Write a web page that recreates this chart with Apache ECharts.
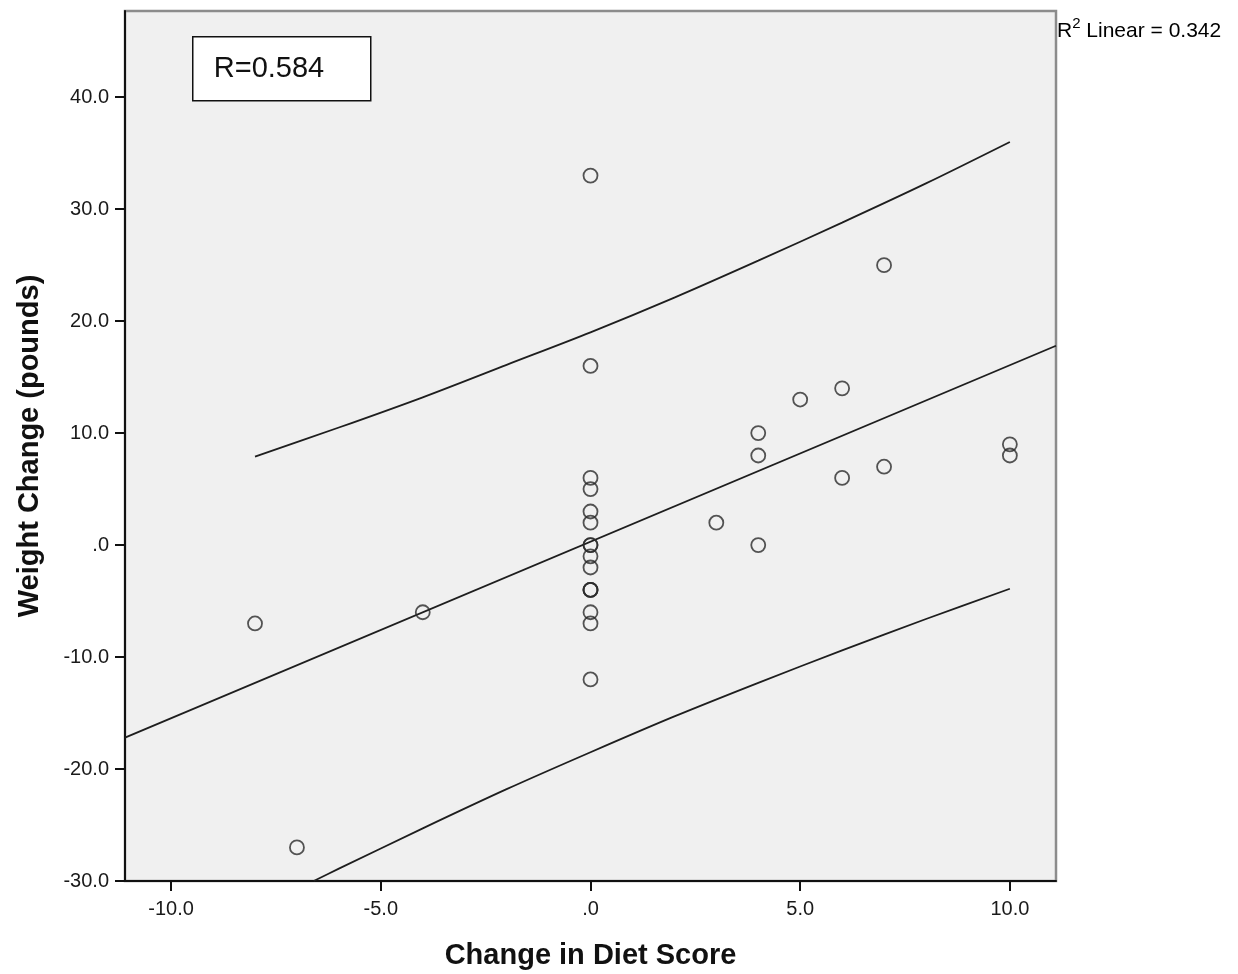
<!DOCTYPE html>
<html>
<head>
<meta charset="utf-8">
<script src="https://cdn.jsdelivr.net/npm/echarts@6/dist/echarts.min.js"></script>
<style>
  html, body { margin: 0; padding: 0; background: #ffffff; }
  #chart { width: 1238px; height: 974px; }
</style>
</head>
<body>
<div id="chart"></div>
<script>
// Observations: change in diet score vs. weight change (pounds)
const dietChange   = [0, 7, 0, 6, 5, 4, 10, 4, 10, 7, 6, 0, 0, 0, 3, 0, 0, 0, 4, 0, 0, 0, 0, 0, 0, -4, 0, -8, 0, -7];
const weightChange = [33, 25, 16, 14, 13, 10, 9, 8, 8, 7, 6, 6, 5, 3, 2, 2, 0, 0, 0, -1, -2, -4, -4, -4, -6, -6, -7, -7, -12, -27];

// Linear fit across the axis range
const fitX = [-11.1, 11.1];
const fitY = [-17.2, 17.8];

// Individual prediction interval bounds
const upperX = [-8, -6, -4, -2, 0, 2, 4, 6, 8, 10];
const upperY = [7.9, 10.5, 13.2, 16.1, 19.0, 22.1, 25.4, 28.8, 32.3, 36.0];
const lowerX = [-6.6, -6, -4, -2, 0, 2, 4, 6, 8, 10];
const lowerY = [-30, -28.9, -25.3, -21.8, -18.5, -15.3, -12.3, -9.4, -6.6, -3.9];

// Axis ticks
const xTicks = [-10, -5, 0, 5, 10];
const yTicks = [-30, -20, -10, 0, 10, 20, 30, 40];

const rText = 'R=0.584';
const r2Value = '0.342';

const zip = (xs, ys) => xs.map((x, i) => [x, ys[i]]);
const fmt = v => (v === 0 ? '.0' : v.toFixed(1));

const FONT = '"Liberation Sans", Arial, sans-serif';
const chart = echarts.init(document.getElementById('chart'), null, { renderer: 'canvas' });

chart.setOption({
  animation: false,
  backgroundColor: '#ffffff',
  grid: {
    left: 125, right: 182, top: 11, bottom: 93,
    outerBoundsMode: 'none',
    containLabel: false,
    show: true,
    backgroundColor: '#f0f0f0',
    borderColor: '#8c8c8c',
    borderWidth: 2.5
  },
  xAxis: {
    type: 'value',
    min: -11.1, max: 11.1,
    name: 'Change in Diet Score',
    nameLocation: 'middle',
    nameGap: 60,
    nameTextStyle: { fontFamily: FONT, fontSize: 29, fontWeight: 'bold', color: '#111' },
    axisLine: { show: true, onZero: false, lineStyle: { color: '#111', width: 2 } },
    axisTick: { show: true, length: 10, customValues: xTicks, lineStyle: { color: '#111', width: 2 } },
    axisLabel: { customValues: xTicks, formatter: fmt, margin: 18, fontFamily: FONT, fontSize: 20, color: '#1a1a1a' },
    splitLine: { show: false }
  },
  yAxis: {
    type: 'value',
    min: -30, max: 47.7,
    name: 'Weight Change (pounds)',
    nameLocation: 'middle',
    nameGap: 81,
    nameTextStyle: { fontFamily: FONT, fontSize: 29, fontWeight: 'bold', color: '#111' },
    axisLine: { show: true, onZero: false, lineStyle: { color: '#111', width: 2 } },
    axisTick: { show: true, length: 10, customValues: yTicks, lineStyle: { color: '#111', width: 2 } },
    axisLabel: { customValues: yTicks, formatter: fmt, margin: 16, fontFamily: FONT, fontSize: 20, color: '#1a1a1a' },
    splitLine: { show: false }
  },
  series: [
    {
      name: 'Observed',
      type: 'scatter',
      data: zip(dietChange, weightChange),
      symbol: 'circle',
      symbolSize: 14,
      itemStyle: { color: 'rgba(0,0,0,0)', borderColor: '#2b2b2b', borderWidth: 1.8 },
      z: 3
    },
    {
      name: 'Linear',
      type: 'line',
      data: zip(fitX, fitY),
      showSymbol: false,
      lineStyle: { color: '#1e1e1e', width: 1.8 },
      z: 2
    },
    {
      name: 'Upper',
      type: 'line',
      data: zip(upperX, upperY),
      smooth: 0.3,
      showSymbol: false,
      lineStyle: { color: '#1e1e1e', width: 1.8 },
      z: 2
    },
    {
      name: 'Lower',
      type: 'line',
      data: zip(lowerX, lowerY),
      smooth: 0.3,
      showSymbol: false,
      lineStyle: { color: '#1e1e1e', width: 1.8 },
      z: 2
    }
  ],
  graphic: [
    {
      type: 'group',
      left: 192, top: 36,
      children: [
        {
          type: 'rect',
          shape: { x: 0, y: 0, width: 178, height: 64 },
          style: { fill: '#ffffff', stroke: '#111', lineWidth: 1.5 }
        },
        {
          type: 'text',
          x: 21, y: 32,
          style: {
            text: rText,
            font: '29px ' + FONT,
            fill: '#111',
            verticalAlign: 'middle'
          }
        }
      ]
    },
    {
      type: 'text',
      left: 1057, top: 16,
      style: {
        text: '{a|R}{s|2}{a| Linear = ' + r2Value + '}',
        rich: {
          a: { fontFamily: FONT, fontSize: 21, color: '#1a1a1a', lineHeight: 26, verticalAlign: 'bottom' },
          s: { fontFamily: FONT, fontSize: 15, color: '#1a1a1a', lineHeight: 18, verticalAlign: 'top' }
        }
      }
    }
  ]
});
</script>
</body>
</html>
